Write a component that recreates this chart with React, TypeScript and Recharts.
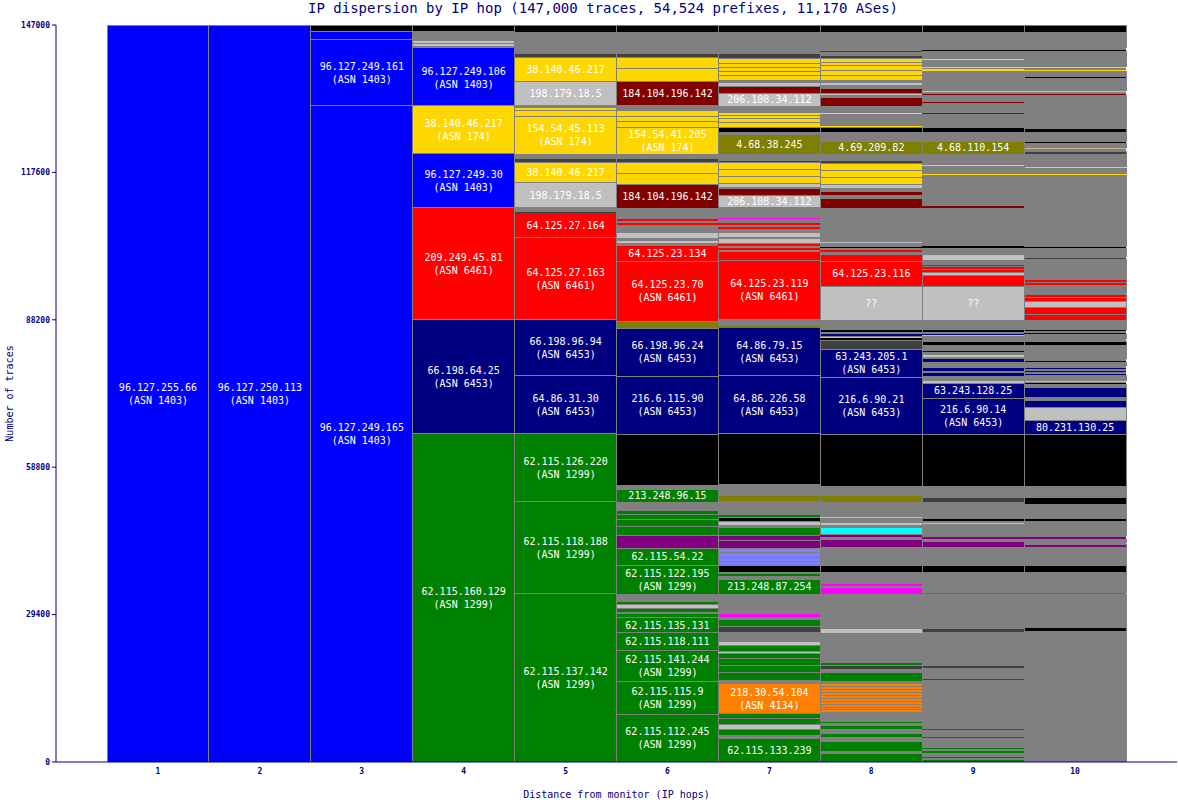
import React from 'react';
import { BarChart, Bar, XAxis, YAxis } from 'recharts';

type Seg = [number, string, string?];

const hops = ['1', '2', '3', '4', '5', '6', '7', '8', '9', '10'];
const yTicks = [0, 29400, 58800, 88200, 117600, 147000];
const title = 'IP dispersion by IP hop (147,000 traces, 54,524 prefixes, 11,170 ASes)';

const COLORS: Record<string, string> = {
  B: '#0000ff', N: '#000080', G: '#008000', R: '#ff0000', Y: '#ffd700', S: '#c0c0c0',
  M: '#800000', O: '#808000', K: '#000000', D: '#404040', E: '#808080', P: '#800080',
  F: '#ff00ff', C: '#00ffff', L: '#8080ff', A: '#ff8000', T: '#d2b48c',
};

// segments listed bottom -> top: [traces, colour key, label]
const hop1: Seg[] = [[147000, 'B', '96.127.255.66|(ASN 1403)']];
const hop2: Seg[] = [[147000, 'B', '96.127.250.113|(ASN 1403)']];
const hop3: Seg[] = [[130846, 'B', '96.127.249.165|(ASN 1403)'], [13164, 'B', '96.127.249.161|(ASN 1403)'], [1596, 'B'], [1396, 'K']];
const hop4: Seg[] = [
  [65423, 'G', '62.115.160.129|(ASN 1299)'], [22739, 'N', '66.198.64.25|(ASN 6453)'], [22340, 'R', '209.249.45.81|(ASN 6461)'],
  [10771, 'B', '96.127.249.30|(ASN 1403)'], [9574, 'Y', '38.140.46.217|(ASN 174)'], [11170, 'B', '96.127.249.106|(ASN 1403)'],
  [399, 'B'], [199, 'E'], [598, 'S'], [199, 'E'], [399, 'S'], [1795, 'E'], [1396, 'K'],
];
const hop5: Seg[] = [
  [33509, 'G', '62.115.137.142|(ASN 1299)'], [18350, 'G', '62.115.118.188|(ASN 1299)'], [13563, 'G', '62.115.126.220|(ASN 1299)'],
  [11569, 'N', '64.86.31.30|(ASN 6453)'], [11170, 'N', '66.198.96.94|(ASN 6453)'], [16356, 'R', '64.125.27.163|(ASN 6461)'],
  [4986, 'R', '64.125.27.164'], [199, 'D'], [798, 'E'], [4986, 'S', '198.179.18.5'], [3989, 'Y', '38.140.46.217'],
  [798, 'D'], [997, 'E'], [7380, 'Y', '154.54.45.113|(ASN 174)'], [1197, 'Y'], [199, 'E'], [399, 'Y'], [399, 'E'],
  [4986, 'S', '198.179.18.5'], [4588, 'Y', '38.140.46.217'], [997, 'D'], [798, 'E'], [199, 'D'], [1197, 'E'], [199, 'D'],
  [1795, 'E'], [1396, 'K'],
];
const hop6: Seg[] = [
  [9375, 'G', '62.115.112.245|(ASN 1299)'], [6582, 'G', '62.115.115.9|(ASN 1299)'], [6183, 'G', '62.115.141.244|(ASN 1299)'],
  [3590, 'G', '62.115.118.111'], [2992, 'G', '62.115.135.131'], [997, 'G'], [199, 'E'], [798, 'G'], [798, 'S'], [598, 'G'],
  [1396, 'E'], [5784, 'G', '62.115.122.195|(ASN 1299)'], [3391, 'G', '62.115.54.22'], [2593, 'P'], [1795, 'G'], [1396, 'G'],
  [997, 'G'], [798, 'G'], [1596, 'E'], [2593, 'G', '213.248.96.15'], [798, 'E'], [10172, 'K'],
  [11569, 'N', '216.6.115.90|(ASN 6453)'], [9574, 'N', '66.198.96.24|(ASN 6453)'], [1396, 'O'],
  [11968, 'R', '64.125.23.70|(ASN 6461)'], [3191, 'R', '64.125.23.134'], [399, 'E'], [598, 'S'], [399, 'E'], [1197, 'S'],
  [1396, 'E'], [399, 'R'], [399, 'E'], [598, 'R'], [1995, 'E'], [4787, 'M', '184.104.196.142'], [2194, 'Y'], [1995, 'Y'],
  [798, 'D'], [997, 'E'], [5186, 'Y', '154.54.41.205|(ASN 174)'], [1197, 'Y'], [997, 'Y'], [1396, 'Y'], [798, 'E'],
  [4787, 'M', '184.104.196.142'], [2593, 'Y'], [2194, 'Y'], [997, 'D'], [798, 'E'], [199, 'D'], [1197, 'E'], [199, 'D'],
  [1795, 'E'], [1396, 'K'],
];
const hop7: Seg[] = [
  [4588, 'G', '62.115.133.239'], [598, 'E'], [1197, 'G'], [997, 'S'], [1197, 'G'], [997, 'G'],
  [6183, 'A', '218.30.54.104|(ASN 4134)'], [598, 'E'], [1596, 'G'], [1396, 'G'], [1396, 'G'], [997, 'G'], [399, 'S'],
  [1197, 'G'], [798, 'S'], [1596, 'E'], [1396, 'D'], [1396, 'G'], [399, 'E'], [798, 'F'], [997, 'E'], [199, 'K'],
  [2593, 'E'], [2992, 'G', '213.248.87.254'], [598, 'E'], [399, 'G'], [399, 'E'], [1396, 'K'], [798, 'L'], [798, 'L'],
  [997, 'L'], [798, 'L'], [1596, 'P'], [997, 'P'], [1596, 'G'], [399, 'E'], [798, 'S'], [798, 'K'], [399, 'G'],
  [2593, 'E'], [1396, 'O'], [1995, 'E'], [10172, 'K'], [11569, 'N', '64.86.226.58|(ASN 6453)'],
  [9574, 'N', '64.86.79.15|(ASN 6453)'], [399, 'O'], [1197, 'E'], [11768, 'R', '64.125.23.119|(ASN 6461)'], [1795, 'R'],
  [399, 'E'], [399, 'R'], [399, 'E'], [399, 'R'], [997, 'S'], [199, 'E'], [997, 'S'], [798, 'E'], [399, 'R'], [399, 'E'],
  [399, 'R'], [798, 'E'], [199, 'F'], [1995, 'E'], [2394, 'S', '206.108.34.112'], [1396, 'M'], [199, 'E'], [798, 'S'],
  [1396, 'Y'], [1396, 'Y'], [1396, 'Y'], [598, 'D'], [1197, 'E'], [3989, 'O', '4.68.38.245'], [399, 'E'], [997, 'K'],
  [997, 'Y'], [798, 'Y'], [598, 'Y'], [598, 'Y'], [1197, 'E'], [2593, 'S', '206.108.34.112'], [1396, 'M'], [798, 'S'],
  [399, 'E'], [997, 'Y'], [798, 'Y'], [798, 'Y'], [798, 'Y'], [997, 'Y'], [997, 'D'], [798, 'E'], [199, 'D'], [1197, 'E'],
  [199, 'D'], [1795, 'E'], [1396, 'K'],
];
const hop8: Seg[] = [
  [1596, 'G'], [399, 'E'], [1995, 'G'], [798, 'E'], [798, 'G'], [798, 'E'], [798, 'G'], [598, 'E'], [199, 'G'], [1795, 'E'],
  [598, 'A'], [598, 'A'], [598, 'A'], [598, 'A'], [598, 'A'], [598, 'A'], [598, 'A'], [598, 'A'], [598, 'A'], [598, 'A'],
  [399, 'E'], [1795, 'G'], [598, 'E'], [798, 'D'], [598, 'G'], [2394, 'E'], [199, 'D'], [997, 'E'], [199, 'G'], [1995, 'E'],
  [997, 'S'], [3191, 'E'], [199, 'K'], [1396, 'E'], [199, 'K'], [1795, 'E'], [1396, 'F'], [199, 'E'], [598, 'F'], [798, 'E'],
  [199, 'K'], [1197, 'E'], [1396, 'K'], [3590, 'E'], [1596, 'P'], [399, 'E'], [399, 'P'], [199, 'E'], [1396, 'C'], [399, 'E'],
  [598, 'S'], [798, 'E'], [399, 'S'], [2792, 'E'], [1396, 'O'], [1795, 'E'], [10372, 'K'],
  [11369, 'N', '216.6.90.21|(ASN 6453)'], [5585, 'N', '63.243.205.1|(ASN 6453)'], [1795, 'D'], [399, 'K'], [399, 'S'],
  [598, 'N'], [199, 'E'], [598, 'K'], [399, 'E'], [199, 'O'], [1197, 'E'], [6782, 'S', '??'], [4986, 'R', '64.125.23.116'],
  [1396, 'R'], [399, 'E'], [399, 'R'], [399, 'E'], [399, 'K'], [598, 'E'], [199, 'S'], [199, 'R'], [798, 'E'], [199, 'D'],
  [1197, 'E'], [199, 'D'], [4189, 'E'], [1995, 'M'], [598, 'E'], [798, 'M'], [598, 'E'], [798, 'S'], [1396, 'Y'],
  [1396, 'Y'], [1396, 'Y'], [598, 'D'], [1197, 'E'], [2593, 'O', '4.69.209.82'], [1795, 'E'], [997, 'K'], [399, 'Y'],
  [2194, 'E'], [399, 'Y'], [1197, 'E'], [1795, 'M'], [399, 'E'], [399, 'S'], [997, 'M'], [598, 'E'], [598, 'S'], [399, 'E'],
  [997, 'Y'], [997, 'Y'], [997, 'Y'], [598, 'Y'], [798, 'Y'], [598, 'D'], [598, 'E'], [199, 'D'], [399, 'E'], [199, 'D'],
  [1197, 'E'], [199, 'D'], [1795, 'E'], [1396, 'K'],
];
const hop9: Seg[] = [
  [598, 'G'], [199, 'E'], [399, 'G'], [598, 'E'], [399, 'G'], [399, 'E'], [399, 'G'], [1795, 'E'], [399, 'G'], [1197, 'E'],
  [399, 'G'], [9574, 'E'], [399, 'D'], [1995, 'E'], [399, 'D'], [6582, 'E'], [997, 'D'], [3191, 'E'], [199, 'K'], [1396, 'E'],
  [199, 'K'], [1795, 'E'], [399, 'F'], [598, 'E'], [199, 'F'], [598, 'E'], [199, 'F'], [997, 'E'], [199, 'K'], [1197, 'E'],
  [1396, 'K'], [3590, 'E'], [1197, 'P'], [399, 'E'], [399, 'P'], [199, 'E'], [199, 'P'], [2194, 'E'], [199, 'S'], [399, 'E'],
  [598, 'K'], [3191, 'E'], [997, 'D'], [2194, 'E'], [10372, 'K'], [7181, 'N', '216.6.90.14|(ASN 6453)'],
  [2992, 'N', '63.243.128.25'], [598, 'S'], [798, 'E'], [798, 'N'], [199, 'E'], [798, 'N'], [997, 'E'], [798, 'N'],
  [199, 'E'], [598, 'S'], [399, 'E'], [199, 'N'], [399, 'E'], [199, 'N'], [598, 'E'], [798, 'K'], [997, 'E'], [199, 'S'],
  [199, 'N'], [399, 'E'], [598, 'K'], [1795, 'E'], [6782, 'S', '??'], [2194, 'R'], [598, 'S'], [399, 'R'], [199, 'E'],
  [399, 'R'], [199, 'E'], [399, 'R'], [798, 'E'], [1197, 'S'], [399, 'E'], [199, 'R'], [598, 'E'], [399, 'K'], [399, 'E'],
  [199, 'R'], [6981, 'E'], [399, 'M'], [399, 'E'], [199, 'S'], [1995, 'E'], [199, 'S'], [997, 'E'], [199, 'S'], [997, 'E'],
  [199, 'K'], [997, 'E'], [399, 'Y'], [1396, 'E'], [199, 'Y'], [199, 'E'], [199, 'Y'], [1795, 'E'], [2593, 'O', '4.68.110.154'],
  [1795, 'E'], [997, 'K'], [199, 'Y'], [1596, 'E'], [199, 'D'], [598, 'E'], [399, 'P'], [1795, 'E'], [199, 'M'], [199, 'E'],
  [199, 'S'], [997, 'E'], [199, 'M'], [399, 'E'], [399, 'S'], [2194, 'E'], [199, 'Y'], [1396, 'E'], [399, 'Y'], [199, 'E'],
  [399, 'Y'], [1197, 'E'], [199, 'Y'], [399, 'E'], [199, 'D'], [997, 'E'], [199, 'K'], [399, 'E'], [199, 'K'], [1197, 'E'],
  [199, 'K'], [1596, 'E'], [1396, 'K'],
];
const hop10: Seg[] = [
  [25930, 'E'], [798, 'K'], [3191, 'E'], [199, 'K'], [1396, 'E'], [199, 'K'], [1795, 'E'], [399, 'F'], [2593, 'E'], [199, 'K'],
  [1197, 'E'], [1396, 'K'], [3590, 'E'], [598, 'P'], [199, 'E'], [199, 'P'], [598, 'E'], [399, 'P'], [199, 'E'], [199, 'P'],
  [2792, 'E'], [598, 'K'], [2792, 'E'], [1396, 'K'], [2194, 'E'], [10372, 'K'], [2792, 'N', '80.231.130.25'], [2593, 'S'],
  [1396, 'N'], [598, 'E'], [1995, 'N'], [598, 'E'], [199, 'K'], [199, 'E'], [399, 'S'], [997, 'E'], [199, 'N'], [399, 'E'],
  [199, 'N'], [399, 'E'], [199, 'N'], [399, 'E'], [199, 'N'], [598, 'E'], [199, 'N'], [399, 'E'], [199, 'N'], [2593, 'E'],
  [798, 'K'], [399, 'E'], [199, 'D'], [798, 'E'], [199, 'N'], [399, 'E'], [399, 'K'], [1795, 'E'], [1197, 'R'], [1396, 'R'],
  [1197, 'S'], [798, 'R'], [598, 'R'], [199, 'E'], [199, 'R'], [1396, 'E'], [598, 'R'], [598, 'R'], [1197, 'E'], [199, 'S'],
  [2593, 'E'], [199, 'D'], [199, 'E'], [199, 'D'], [1596, 'E'], [399, 'K'], [7579, 'E'], [199, 'M'], [2792, 'E'], [199, 'S'],
  [2194, 'E'], [199, 'K'], [997, 'E'], [399, 'Y'], [997, 'E'], [399, 'Y'], [2194, 'E'], [199, 'K'], [598, 'D'], [399, 'E'],
  [399, 'T'], [798, 'E'], [399, 'K'], [1795, 'E'], [798, 'K'], [1995, 'E'], [199, 'K'], [598, 'E'], [199, 'P'], [1596, 'E'],
  [199, 'M'], [598, 'E'], [199, 'S'], [997, 'E'], [199, 'M'], [399, 'E'], [399, 'S'], [2394, 'E'], [399, 'K'], [997, 'E'],
  [199, 'Y'], [399, 'E'], [399, 'Y'], [2992, 'E'], [199, 'K'], [399, 'E'], [199, 'K'], [1197, 'E'], [199, 'K'], [1596, 'E'],
  [1396, 'K'],
];

const HOP_SEGMENTS: Seg[][] = [hop1, hop2, hop3, hop4, hop5, hop6, hop7, hop8, hop9, hop10];
const MAX_SEGS = Math.max(...HOP_SEGMENTS.map((s) => s.length));

const data = hops.map((h, hi) => {
  const row: Record<string, any> = { hop: h, hi };
  HOP_SEGMENTS[hi].forEach((s, si) => {
    row['s' + si] = s[0];
  });
  return row;
});

const MONO = '"DejaVu Sans Mono", monospace';
const NAVY = '#000080';

const makeShape = (si: number) => (props: any) => {
  const { x, y, width, height, payload, index } = props;
  const hi = payload && typeof payload.hi === 'number' ? payload.hi : index;
  const seg = HOP_SEGMENTS[hi] ? HOP_SEGMENTS[hi][si] : undefined;
  if (!seg || !(height > 0)) return <g />;
  const fill = COLORS[seg[1]];
  const stroke = height >= 2.5 ? '#808080' : 'none';
  const lines = seg[2] ? seg[2].split('|') : [];
  const cx = x + width / 2;
  const cy = y + height / 2;
  return (
    <g>
      <rect x={x} y={y} width={width} height={height} fill={fill} stroke={stroke} strokeWidth={1} shapeRendering="crispEdges" />
      {lines.map((t, k) => (
        <text
          key={k}
          x={cx}
          y={cy + (k - (lines.length - 1) / 2) * 13}
          textAnchor="middle"
          dominantBaseline="central"
          fill="#ffffff"
          fontSize={10}
          fontFamily={MONO}
        >
          {t}
        </text>
      ))}
    </g>
  );
};

const SHAPES = Array.from({ length: MAX_SEGS }, (_, si) => makeShape(si));

const YLabel = (p: any) => {
  const vb = p && p.viewBox ? p.viewBox : { x: 0, y: 25, width: 56, height: 737 };
  const cx = vb.x + 9;
  const cy = vb.y + vb.height / 2;
  return (
    <text
      x={cx}
      y={cy}
      transform={`rotate(-90, ${cx}, ${cy})`}
      textAnchor="middle"
      dominantBaseline="central"
      fill={NAVY}
      fontSize={10}
      fontFamily={MONO}
    >
      Number of traces
    </text>
  );
};

export default function App() {
  return (
    <div style={{ position: 'absolute', left: 0, top: 0, width: 1178, height: 800, background: '#fff' }}>
      <div
        style={{
          position: 'absolute',
          left: 308,
          top: 0,
          fontFamily: MONO,
          fontSize: 14,
          lineHeight: '16px',
          color: NAVY,
          whiteSpace: 'nowrap',
        }}
      >
        {title}
      </div>
      <BarChart
        width={1178}
        height={800}
        data={data}
        margin={{ top: 25, right: 1, bottom: 0, left: 0 }}
        barCategoryGap={0}
        barGap={0}
      >
        <XAxis
          dataKey="hop"
          height={38}
          padding={{ left: 51, right: 51 }}
          tickLine={false}
          tickSize={4}
          tickMargin={2}
          axisLine={{ stroke: NAVY }}
          tick={{ fill: NAVY, fontSize: 8, fontWeight: 'bold', fontFamily: MONO }}
          label={{ value: 'Distance from monitor (IP hops)', position: 'insideBottom', offset: 2, fill: NAVY, fontSize: 10, fontFamily: MONO }}
        />
        <XAxis
          xAxisId="top"
          orientation="top"
          dataKey="hop"
          height={0}
          padding={{ left: 51, right: 51 }}
          tick={false}
          tickLine={false}
          axisLine={{ stroke: NAVY }}
        />
        <YAxis
          width={56}
          domain={[0, 147000]}
          ticks={yTicks}
          allowDataOverflow
          interval={0}
          tickSize={4}
          tickMargin={2}
          axisLine={{ stroke: NAVY }}
          tickLine={{ stroke: NAVY }}
          tick={{ fill: NAVY, fontSize: 8, fontWeight: 'bold', fontFamily: MONO }}
          label={{ content: YLabel }}
        />
        <YAxis
          yAxisId="right"
          orientation="right"
          width={0}
          domain={[0, 147000]}
          tick={false}
          tickLine={false}
          axisLine={{ stroke: NAVY }}
        />
        {SHAPES.map((shape, si) => (
          <Bar key={si} dataKey={'s' + si} stackId="a" isAnimationActive={false} shape={shape} />
        ))}
      </BarChart>
    </div>
  );
}
